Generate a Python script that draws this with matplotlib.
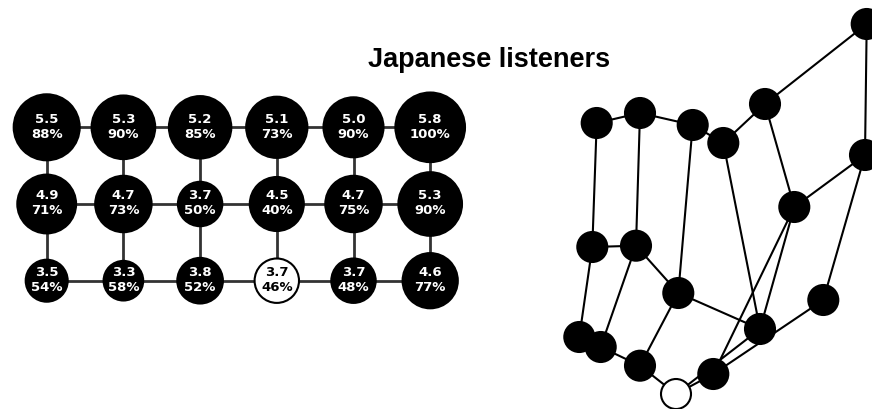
import matplotlib
matplotlib.use('Agg')
import matplotlib.pyplot as plt
from matplotlib.patches import Circle

# Ratings (top) and percentages (bottom) for the 3 x 6 grid of stimuli
ratings = [
    [5.5, 5.3, 5.2, 5.1, 5.0, 5.8],
    [4.9, 4.7, 3.7, 4.5, 4.7, 5.3],
    [3.5, 3.3, 3.8, 3.7, 3.7, 4.6],
]
percents = [
    [88, 90, 85, 73, 90, 100],
    [71, 73, 50, 40, 75, 90],
    [54, 58, 52, 46, 48, 77],
]
# the stimulus drawn as an open circle (row, col)
open_cell = (2, 3)

# MDS solution, same row/col order as above
mds_x = [
    [596.7, 640.0, 692.7, 723.3, 765.0, 866.7],
    [592.3, 636.0, 678.3, 760.0, 794.3, 865.0],
    [579.3, 600.7, 640.0, 676.0, 713.3, 823.3],
]
mds_y = [
    [124.0, 114.0, 126.0, 144.0, 105.0, 25.0],
    [248.0, 246.7, 294.0, 330.0, 208.0, 156.0],
    [338.0, 348.0, 366.7, 395.0, 375.0, 301.0],
]

title = 'Japanese listeners'

n_rows = len(ratings)
n_cols = len(ratings[0])

# grid neighbours (horizontal and vertical)
edges = []
for r in range(n_rows):
    for c in range(n_cols):
        if c + 1 < n_cols:
            edges.append(((r, c), (r, c + 1)))
        if r + 1 < n_rows:
            edges.append(((r, c), (r + 1, c)))

fig = plt.figure(figsize=(8.72, 4.10), dpi=100)
ax = fig.add_axes([0, 0, 1, 1])
ax.set_xlim(0, 872)
ax.set_ylim(410, 0)
ax.set_aspect('equal')
ax.axis('off')

# left panel: schematic grid
x0, y0, step = 46.7, 128.3, 76.7


def gx(c):
    return x0 + c * step


def gy(r):
    return y0 + r * step


for (r1, c1), (r2, c2) in edges:
    ax.plot([gx(c1), gx(c2)], [gy(r1), gy(r2)], color='#333333', lw=2, zorder=1)

for r in range(n_rows):
    for c in range(n_cols):
        val = ratings[r][c]
        rad = 6.0 * val
        is_open = (r, c) == open_cell
        ax.add_patch(Circle((gx(c), gy(r)), rad,
                            facecolor='white' if is_open else 'black',
                            edgecolor='black', lw=1.5, zorder=2))
        tc = 'black' if is_open else 'white'
        ax.text(gx(c), gy(r) - 9, f'{val:.1f}', color=tc, fontsize=9.5,
                fontweight='bold', ha='center', va='center', zorder=3)
        ax.text(gx(c), gy(r) + 6, f'{percents[r][c]}%', color=tc, fontsize=9.5,
                fontweight='bold', ha='center', va='center', zorder=3)

# right panel: MDS network
for (r1, c1), (r2, c2) in edges:
    ax.plot([mds_x[r1][c1], mds_x[r2][c2]], [mds_y[r1][c1], mds_y[r2][c2]],
            color='black', lw=1.5, zorder=1)

for r in range(n_rows):
    for c in range(n_cols):
        is_open = (r, c) == open_cell
        ax.add_patch(Circle((mds_x[r][c], mds_y[r][c]), 15,
                            facecolor='white' if is_open else 'black',
                            edgecolor='black', lw=1.5, zorder=2))

ax.text(489, 60, title, fontsize=19.5, fontweight='bold', family='Liberation Sans',
        ha='center', va='center')

fig.savefig('out.png', dpi=100)
